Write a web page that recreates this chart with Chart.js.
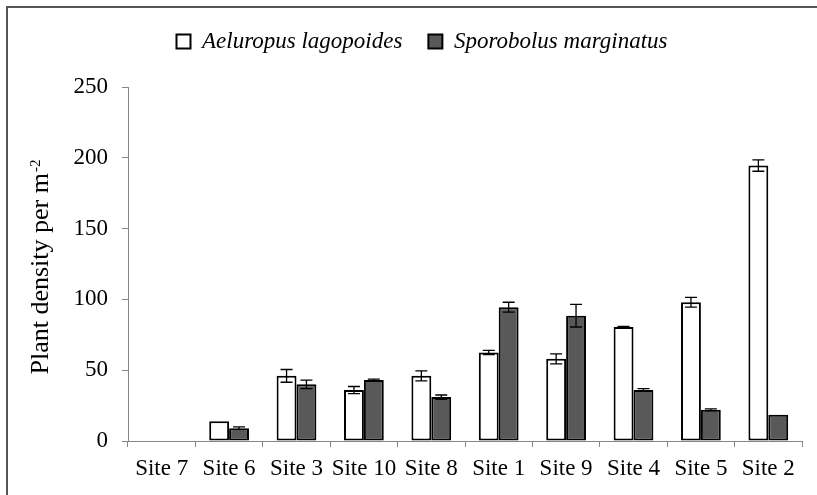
<!DOCTYPE html>
<html>
<head>
<meta charset="utf-8">
<script src="https://cdn.jsdelivr.net/npm/chart.js@4/dist/chart.umd.min.js"></script>
<style>
  body { margin: 0; background: #fff; }
  #wrap { position: relative; width: 817px; height: 495px; overflow: hidden; }
  #frame { position: absolute; left: 6px; top: 6px; right: -10px; bottom: -10px;
           border-top: 2px solid #555; border-left: 2px solid #555; pointer-events: none; }
</style>
</head>
<body>
<div id="wrap">
  <canvas id="myChart" width="817" height="495"></canvas>
  <div id="frame"></div>
</div>
<script>
// sites, ordered as in the figure
const sites = ['Site 7', 'Site 6', 'Site 3', 'Site 10', 'Site 8', 'Site 1', 'Site 9', 'Site 4', 'Site 5', 'Site 2'];

// plant density per m-2 (mean) and the error bar half-length
const aeluropus = [0, 14, 46, 36, 46, 62.5, 58, 80.5, 98, 194.5];
const aeluropusErr = [0, 0, 4.5, 2.5, 3.5, 1.5, 3.5, 0.5, 3.5, 4];
const sporobolus = [0, 9, 40, 43, 31, 94.5, 88.5, 36, 22, 18.5];
const sporobolusErr = [0, 1, 3, 0.7, 1.5, 3.5, 8, 1, 0.7, 0];

const yTicks = [0, 50, 100, 150, 200, 250];

const axisGray = '#868686';
const ctx = document.getElementById('myChart').getContext('2d');

Chart.defaults.font.family = "'Liberation Serif', 'Times New Roman', serif";
Chart.defaults.color = '#000';

// error bars drawn on top of the bars, using the y scale
const errorBars = {
    id: 'errorBars',
    afterDatasetsDraw(chart) {
        const c = chart.ctx;
        const y = chart.scales.y;
        c.save();
        c.strokeStyle = '#000';
        c.lineWidth = 1.3;
        chart.data.datasets.forEach((ds, i) => {
            const meta = chart.getDatasetMeta(i);
            meta.data.forEach((bar, j) => {
                const e = ds.errors[j];
                if (!e) return;
                const top = y.getPixelForValue(ds.data[j] + e);
                const bottom = y.getPixelForValue(ds.data[j] - e);
                c.beginPath();
                c.moveTo(bar.x, top);
                c.lineTo(bar.x, bottom);
                c.moveTo(bar.x - 6, top);
                c.lineTo(bar.x + 6, top);
                c.moveTo(bar.x - 6, bottom);
                c.lineTo(bar.x + 6, bottom);
                c.stroke();
            });
        });
        c.restore();
    }
};

// y axis title with a superscript unit
const yTitle = {
    id: 'yTitle',
    afterDraw(chart) {
        const c = chart.ctx;
        const area = chart.chartArea;
        const main = 'Plant density per m';
        const sup = '-2';
        c.save();
        c.fillStyle = '#000';
        c.textBaseline = 'alphabetic';
        c.font = "26px 'Liberation Serif', serif";
        const w1 = c.measureText(main).width;
        c.font = "15px 'Liberation Serif', serif";
        const w2 = c.measureText(sup).width;
        const start = -(w1 + w2 + 1) / 2;
        c.translate(48, (area.top + area.bottom) / 2 + 3);
        c.rotate(-Math.PI / 2);
        c.font = "26px 'Liberation Serif', serif";
        c.fillText(main, start, 0);
        c.font = "15px 'Liberation Serif', serif";
        c.fillText(sup, start + w1 + 1, -8);
        c.restore();
    }
};

const myChart = new Chart(ctx, {
    type: 'bar',
    data: {
        labels: sites,
        datasets: [{
            label: 'Aeluropus lagopoides',
            data: aeluropus,
            errors: aeluropusErr,
            backgroundColor: '#ffffff',
            borderColor: '#000000',
            borderWidth: 2,
            borderSkipped: false
        }, {
            label: 'Sporobolus marginatus',
            data: sporobolus,
            errors: sporobolusErr,
            backgroundColor: '#595959',
            borderColor: '#000000',
            borderWidth: 2,
            borderSkipped: false
        }]
    },
    options: {
        responsive: false,
        animation: false,
        layout: { padding: { top: 4, left: 42, right: 15, bottom: 0 } },
        datasets: { bar: { categoryPercentage: 0.59, barPercentage: 1 } },
        plugins: {
            legend: {
                position: 'top',
                labels: {
                    boxWidth: 14,
                    boxHeight: 14,
                    padding: 26,
                    font: { size: 23, style: 'italic' }
                }
            },
            // empty spacer between legend and plot
            subtitle: {
                display: true,
                text: '',
                weight: 500,
                padding: 0,
                font: { size: 24, lineHeight: 1 }
            },
            tooltip: { enabled: false }
        },
        scales: {
            x: {
                grid: { display: true, drawOnChartArea: false, drawTicks: true, tickLength: 6, color: axisGray, offset: true },
                border: { color: axisGray, width: 1 },
                ticks: { font: { size: 23 }, maxRotation: 0, autoSkip: false, padding: 8 },
                afterFit(scale) { scale.height = 54; }
            },
            y: {
                min: 0,
                max: 250,
                afterBuildTicks(scale) { scale.ticks = yTicks.map(v => ({ value: v })); },
                grid: { display: true, drawOnChartArea: false, drawTicks: true, tickLength: 6, color: axisGray },
                border: { color: axisGray, width: 1 },
                ticks: { font: { size: 23 }, padding: 14 },
                afterFit(scale) { scale.width = 86; }
            }
        }
    },
    plugins: [errorBars, yTitle]
});
</script>
</body>
</html>
